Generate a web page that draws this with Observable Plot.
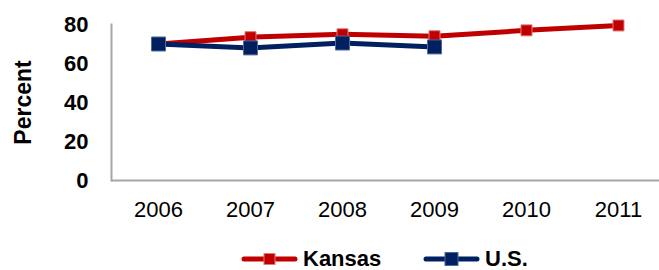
<!DOCTYPE html>
<html>
<head>
<meta charset="utf-8">
<script src="https://cdn.jsdelivr.net/npm/d3@7"></script>
<script src="https://cdn.jsdelivr.net/npm/@observablehq/plot@0.6"></script>
<style>
  html, body { margin: 0; padding: 0; background: #fff; }
  body { position: relative; width: 659px; height: 270px; overflow: hidden; font-family: "Liberation Sans", Arial, sans-serif; }
  .item { position: absolute; top: 248px; height: 22px; line-height: 22px; display: flex; align-items: center; font-weight: bold; font-size: 22px; color: #000; }
  .item svg { margin-right: 5px; display: block; }
</style>
</head>
<body>
<div id="chart"></div>
<div id="legend"></div>
<script>
const years = ["2006", "2007", "2008", "2009", "2010", "2011"];
const kansas = [70, 73.5, 75, 74, 77, 79.5];
const us = [70, 68, 70.5, 68.5];
const yTicks = [0, 20, 40, 60, 80];
const seriesNames = ["Kansas", "U.S."];
const seriesColors = ["#C00000", "#002060"];
const seriesStrokes = ["#e07a7c", "#4f6a9a"];

const kansasData = kansas.map((v, i) => ({year: years[i], value: v}));
const usData = us.map((v, i) => ({year: years[i], value: v}));

const chart = Plot.plot({
  width: 659,
  height: 248,
  marginLeft: 111,
  marginRight: 0,
  marginTop: 24,
  marginBottom: 68,
  style: {fontFamily: "'Liberation Sans', Arial, sans-serif", background: "#fff", color: "#000"},
  x: {type: "point", domain: years, range: [157, 618], padding: 0},
  y: {domain: [0, 80]},
  marks: [
    Plot.axisX({tickSize: 0, tickPadding: 21, fontSize: 22, label: null}),
    Plot.axisY({ticks: yTicks, tickSize: 0, tickPadding: 23, fontSize: 22, fontWeight: "bold",
      label: "Percent", labelAnchor: "center", labelArrow: "none", labelOffset: 97}),
    Plot.ruleY([0], {stroke: "#a6a6a6", strokeWidth: 2}),
    Plot.frame({anchor: "left", stroke: "#a6a6a6", strokeWidth: 2}),
    Plot.lineY(kansasData, {x: "year", y: "value", stroke: seriesColors[0], strokeWidth: 5}),
    Plot.dot(kansasData, {x: "year", y: "value", symbol: "square", r: 6.2, fill: seriesColors[0], stroke: seriesStrokes[0], strokeWidth: 1}),
    Plot.lineY(usData, {x: "year", y: "value", stroke: seriesColors[1], strokeWidth: 5}),
    Plot.dot(usData, {x: "year", y: "value", symbol: "square", r: 7.9, fill: seriesColors[1], stroke: seriesStrokes[1], strokeWidth: 1})
  ]
});
chart.querySelectorAll("g[aria-label='y-axis label']").forEach(el => {
  el.setAttribute("font-size", "23");
  el.setAttribute("font-weight", "bold");
});
document.getElementById("chart").appendChild(chart);

const legend = document.getElementById("legend");
const lefts = [241, 423];
const markerSizes = [11, 13];
seriesNames.forEach((name, i) => {
  const item = document.createElement("div");
  item.className = "item";
  item.style.left = lefts[i] + "px";
  const s = markerSizes[i];
  item.innerHTML = `<svg width="57" height="16" viewBox="0 0 57 16">
    <line x1="3" y1="8" x2="54" y2="8" stroke="${seriesColors[i]}" stroke-width="5" stroke-linecap="round"/>
    <rect x="${28.5 - s / 2}" y="${8 - s / 2}" width="${s}" height="${s}" fill="${seriesColors[i]}" stroke="${seriesStrokes[i]}" stroke-width="1"/>
  </svg><span>${name}</span>`;
  legend.appendChild(item);
});
</script>
</body>
</html>
